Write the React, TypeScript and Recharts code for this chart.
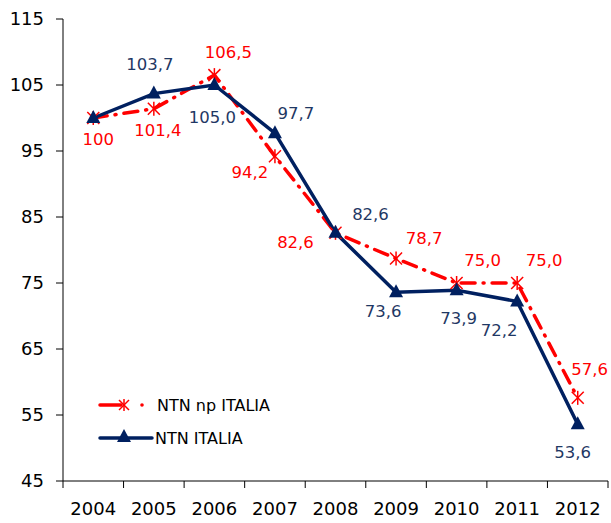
import { LineChart, Line, XAxis, YAxis, LabelList, Legend } from "recharts"

const years = ["2004", "2005", "2006", "2007", "2008", "2009", "2010", "2011", "2012"]
const ntnNpItalia = [100, 101.4, 106.5, 94.2, 82.6, 78.7, 75.0, 75.0, 57.6]
const ntnItalia = [100, 103.7, 105.0, 97.7, 82.6, 73.6, 73.9, 72.2, 53.6]
const yTicks = [45, 55, 65, 75, 85, 95, 105, 115]

const data = years.map((year, i) => ({ year, np: ntnNpItalia[i], it: ntnItalia[i] }))

// label offsets from the point, per year
const npOffsets = [[5, 21], [4, 22], [14, -23], [-25, 16], [-40, 10], [28, -20], [26, -23], [27, -23], [12, -28]]
const itOffsets = [null, [-4, -29], [-2, 32], [21, -20], [35, -18], [-13, 19], [2, 28], [-18, 29], [-5, 28]]

const RED = "#ff0000"
const NAVY = "#002060"
const NAVY_TEXT = "#1f3864"
const FONT = "DejaVu Sans, sans-serif"

const PLOT_LEFT = 63
const PLOT_RIGHT = 608
const HALF_BAND = (PLOT_RIGHT - PLOT_LEFT) / years.length / 2

const fmt = (v: number) => (v === 100 ? "100" : v.toFixed(1).replace(".", ","))

const makeLabel = (offsets: (number[] | null)[], color: string) => (props: any) => {
  const { x, y, value, index } = props
  const off = offsets[index]
  if (!off) return null
  return (
    <text x={x + off[0]} y={y + off[1]} fill={color} fontSize={16.5} fontFamily={FONT} textAnchor="middle" dominantBaseline="central">
      {fmt(value)}
    </text>
  )
}

const Asterisk = ({ cx, cy, s = 6 }: { cx: number; cy: number; s?: number }) => (
  <g stroke={RED} strokeWidth={1.5}>
    <line x1={cx - s} y1={cy - s} x2={cx + s} y2={cy + s} />
    <line x1={cx - s} y1={cy + s} x2={cx + s} y2={cy - s} />
    <line x1={cx} y1={cy - s - 1} x2={cx} y2={cy + s + 1} />
  </g>
)

const Triangle = ({ cx, cy }: { cx: number; cy: number }) => (
  <path d={`M${cx},${cy - 8} L${cx + 7},${cy + 5} L${cx - 7},${cy + 5} Z`} fill={NAVY} />
)

const XTick = (props: any) => {
  const { x, y, payload, index } = props
  const last = index === years.length - 1
  return (
    <g>
      <line x1={x - HALF_BAND} y1={y} x2={x - HALF_BAND} y2={y + 7} stroke="#000" />
      {last && <line x1={x + HALF_BAND} y1={y} x2={x + HALF_BAND} y2={y + 7} stroke="#000" />}
      <text x={x} y={y + 27} fill="#000" fontSize={18} fontFamily={FONT} textAnchor="middle" dominantBaseline="central">
        {payload.value}
      </text>
    </g>
  )
}

const LegendBox = () => (
  <svg width={200} height={60}>
    <line x1={5} y1={15} x2={26} y2={15} stroke={RED} strokeWidth={3.5} strokeLinecap="round" />
    <Asterisk cx={29} cy={15} s={5} />
    <circle cx={47} cy={15} r={1.8} fill={RED} />
    <text x={62} y={15} fill="#000" fontSize={16} fontFamily={FONT} dominantBaseline="central">NTN np ITALIA</text>
    <line x1={5} y1={48} x2={57} y2={48} stroke={NAVY} strokeWidth={3.5} strokeLinecap="round" />
    <Triangle cx={29} cy={47} />
    <text x={60} y={48} fill="#000" fontSize={16} fontFamily={FONT} dominantBaseline="central">NTN ITALIA</text>
  </svg>
)

export default function App() {
  return (
    <div style={{ position: "absolute", left: 0, top: 0, width: 611, height: 523, background: "#fff" }}>
      <LineChart width={611} height={523} data={data} margin={{ top: 19, right: 3, bottom: 0, left: 0 }}>
        <XAxis
          dataKey="year"
          scale="point"
          padding={{ left: HALF_BAND, right: HALF_BAND }}
          height={42}
          stroke="#000"
          tickLine={false}
          tickSize={0}
          tickMargin={0}
          tick={XTick}
          interval={0}
        />
        <XAxis xAxisId="top" dataKey="year" orientation="top" height={0} tick={false} tickLine={false} stroke="#868686" />
        <YAxis
          domain={[45, 115]}
          ticks={yTicks}
          width={63}
          stroke="#000"
          tickSize={7}
          tickMargin={12}
          tick={{ fill: "#000", fontSize: 18, fontFamily: FONT }}
          interval={0}
        />
        <YAxis yAxisId="right" orientation="right" width={0} tick={false} tickLine={false} stroke="#868686" />
        <Legend
          layout="vertical"
          align="center"
          verticalAlign="middle"
          content={() => <LegendBox />}
          wrapperStyle={{ left: 95, top: 390, width: 200, height: 60 }}
        />
        <Line
          dataKey="np"
          name="NTN np ITALIA"
          stroke={RED}
          strokeWidth={3.5}
          strokeDasharray="14 8 1 8"
          strokeLinecap="round"
          isAnimationActive={false}
          dot={(p: any) => <Asterisk key={`np-${p.index}`} cx={p.cx} cy={p.cy} />}
          activeDot={false}
        >
          <LabelList dataKey="np" content={makeLabel(npOffsets, RED)} />
        </Line>
        <Line
          dataKey="it"
          name="NTN ITALIA"
          stroke={NAVY}
          strokeWidth={3.5}
          isAnimationActive={false}
          dot={(p: any) => <Triangle key={`it-${p.index}`} cx={p.cx} cy={p.cy} />}
          activeDot={false}
        >
          <LabelList dataKey="it" content={makeLabel(itOffsets, NAVY_TEXT)} />
        </Line>
      </LineChart>
    </div>
  )
}
